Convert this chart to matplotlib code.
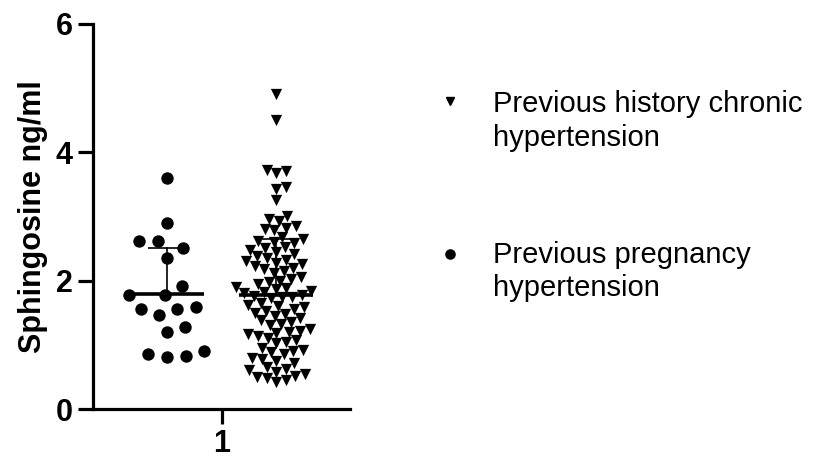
import numpy as np
import matplotlib
matplotlib.use("Agg")
import matplotlib.pyplot as plt
from matplotlib.lines import Line2D

plt.rcParams['font.family'] = ['Liberation Sans', 'DejaVu Sans']

# ---------------- data ----------------
series_names = ["Previous history chronic\nhypertension",
                "Previous pregnancy\nhypertension"]
x_tick_labels = ["1"]
y_ticks = [0, 2, 4, 6]
y_label = "Sphingosine ng/ml"

pregnancy_values = [3.60, 2.90, 2.61, 2.61, 2.51, 2.35, 1.91, 1.78, 1.78,
                    1.59, 1.55, 1.55, 1.47, 1.27, 1.20, 0.91, 0.86, 0.82, 0.81]
pregnancy_mean = 1.79
pregnancy_upper = 2.50

chronic_values = [4.90, 4.50,
                  3.72, 3.70, 3.68,
                  3.45, 3.42,
                  3.25,
                  3.00, 2.95, 2.92,
                  2.85, 2.82, 2.80, 2.78,
                  2.68, 2.65, 2.62, 2.60, 2.58,
                  2.52, 2.50, 2.48, 2.45, 2.42,
                  2.38, 2.35, 2.32, 2.30, 2.28,
                  2.25, 2.22, 2.20, 2.18, 2.15, 2.12,
                  2.05, 2.02, 2.00, 1.98, 1.95,
                  1.90, 1.88, 1.86, 1.84, 1.82,
                  1.80, 1.78, 1.76, 1.75, 1.74, 1.72,
                  1.65, 1.62, 1.60, 1.58, 1.55,
                  1.52, 1.50, 1.48, 1.45, 1.42,
                  1.38, 1.35, 1.32, 1.30,
                  1.25, 1.22, 1.20, 1.18, 1.16, 1.14,
                  1.10, 1.08, 1.05, 1.02,
                  0.95, 0.92, 0.90, 0.88, 0.85,
                  0.80, 0.78, 0.75, 0.72,
                  0.65, 0.62, 0.60, 0.58,
                  0.55, 0.52, 0.50, 0.48,
                  0.45, 0.42]
chronic_mean = 1.77
chronic_upper = 2.65

# ---------------- figure ----------------
W, H = 823, 461
fig = plt.figure(figsize=(W / 100, H / 100), dpi=100)
ax = fig.add_axes([93 / W, 52 / H, (350 - 93) / W, (409 - 23.5) / H])
xlim = (0.53, 1.47)
ylim = (0, 6)
ax.set_xlim(*xlim)
ax.set_ylim(*ylim)

pos = ax.get_position()
sx = pos.width * W / (xlim[1] - xlim[0])   # px per x unit
sy = pos.height * H / (ylim[1] - ylim[0])  # px per y unit


def swarm(values, center, dist_px):
    vals = np.asarray(values, dtype=float)
    ys = vals * sy
    order = np.argsort(vals, kind="stable")
    placed = []
    offs = np.zeros(len(vals))
    for i in order:
        y = ys[i]
        cands = [0.0]
        for (px, py) in placed:
            dy = y - py
            if abs(dy) < dist_px:
                dx = np.sqrt(dist_px ** 2 - dy ** 2)
                cands += [px + dx, px - dx]
        cands = sorted(cands, key=abs)
        chosen = cands[-1]
        for c in cands:
            if all((c - px) ** 2 + (y - py) ** 2 >= dist_px ** 2 - 1e-6
                   for px, py in placed):
                chosen = c
                break
        placed.append((chosen, y))
        offs[i] = chosen
    return center + offs / sx


preg_x = swarm(pregnancy_values, 0.8, 19)
chr_x = swarm(chronic_values, 1.2, 10)

ax.scatter(preg_x, pregnancy_values, marker='o', s=80, color='black',
           linewidths=0, zorder=3)
ax.scatter(chr_x, chronic_values, marker='v', s=66, color='black',
           linewidths=0, zorder=3)

# mean lines + upper SD bars
for cx, m, up in [(0.8, pregnancy_mean, pregnancy_upper),
                  (1.2, chronic_mean, chronic_upper)]:
    ax.plot([cx - 0.135, cx + 0.135], [m, m], color='black', lw=2.6,
            solid_capstyle='butt', zorder=4)
    ax.plot([cx, cx], [m, up], color='black', lw=1.2, zorder=4)
    ax.plot([cx - 0.07, cx + 0.07], [up, up], color='black', lw=1.2,
            solid_capstyle='butt', zorder=4)

# axes styling
for s in ['top', 'right']:
    ax.spines[s].set_visible(False)
for s in ['left', 'bottom']:
    ax.spines[s].set_linewidth(2.3)
ax.set_yticks(y_ticks)
ax.set_yticklabels([str(v) for v in y_ticks])
ax.set_xticks([1.0])
ax.set_xticklabels(x_tick_labels)
ax.tick_params(axis='both', length=11, width=2.3, labelsize=22, pad=3.5)
for lab in ax.get_xticklabels() + ax.get_yticklabels():
    lab.set_fontweight('bold')
ax.set_ylabel(y_label, fontsize=22, fontweight='bold', labelpad=6)

# legend (placed manually, marker aligned with first text line;
# the baseline given is that of the last text line)
leg_entries = [('v', series_names[0], 101, 146, 6.0),
               ('o', series_names[1], 254, 296, 6.6)]
for mk, label, ymk, ybase, ms in leg_entries:
    fig.add_artist(Line2D([450 / W], [1 - ymk / H], marker=mk, markersize=ms,
                          color='black', linestyle='none',
                          transform=fig.transFigure))
    fig.text(493 / W, 1 - ybase / H, label, fontsize=21, va='baseline',
             ha='left', linespacing=1.25)

fig.savefig("out.png", dpi=100)
